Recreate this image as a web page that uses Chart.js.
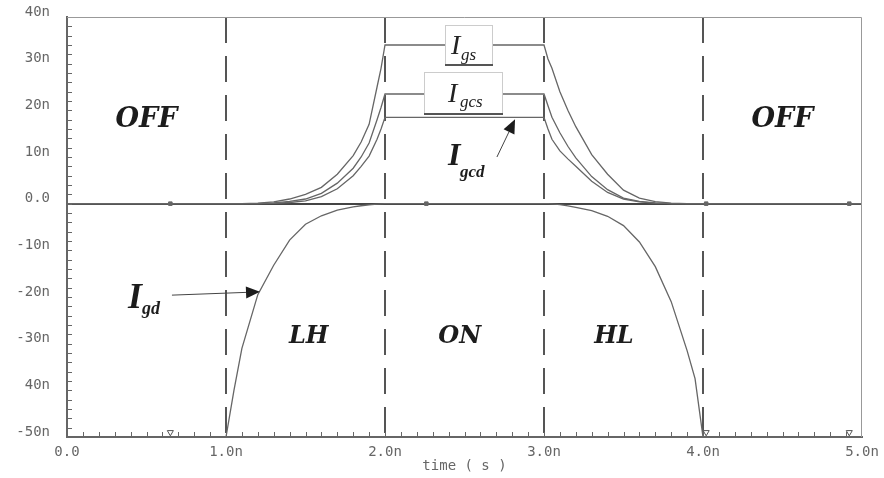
<!DOCTYPE html>
<html>
<head>
<meta charset="utf-8">
<script src="https://cdn.jsdelivr.net/npm/chart.js@4.4.1/dist/chart.umd.min.js"></script>
<style>
  html, body { margin: 0; padding: 0; background: #fff; }
  #wrap { width: 884px; height: 478px; }
</style>
</head>
<body>
<div id="wrap"><canvas id="chart"></canvas></div>
<script>
// gate currents vs time (time in ns, currents in nA)
const timeNs = [0, 0.5, 1.0, 1.05, 1.1, 1.2, 1.3, 1.4, 1.5, 1.6, 1.7, 1.8, 1.85, 1.9, 1.95, 1.975, 2.0, 2.5,
                3.0, 3.025, 3.05, 3.1, 3.15, 3.2, 3.3, 3.4, 3.5, 3.6, 3.7, 3.8, 3.9, 3.95, 4.0, 4.5, 5.0];
const igs  = [0, 0, 0, 0, 0, 0.1, 0.4, 1.0, 2.0, 3.5, 6.3, 10.3, 13.2, 17, 25, 29, 34, 34,
              34, 31, 29, 24, 20, 16.5, 10.5, 6.3, 2.9, 1.2, 0.45, 0.12, 0, 0, 0, 0, 0];
const igcs = [0, 0, 0, 0, 0, 0, 0.15, 0.5, 1.0, 2.2, 4.4, 7.6, 10, 13, 18, 20.6, 23.5, 23.5,
              23.5, 21, 18.5, 15.2, 12.3, 9.8, 5.8, 3.0, 1.2, 0.5, 0.15, 0, 0, 0, 0, 0, 0];
const igcd = [0, 0, 0, 0, 0, 0, 0.05, 0.25, 0.6, 1.5, 3.2, 6.0, 8.0, 10.2, 13.8, 16, 18.5, 18.5,
              18.5, 16, 13.8, 11.3, 9.6, 8.0, 4.8, 2.4, 1.0, 0.4, 0.1, 0, 0, 0, 0, 0, 0];
const igd  = [-50, -50, -50, -40, -31, -19.5, -13.2, -7.8, -4.4, -2.6, -1.4, -0.7, -0.45, -0.25, -0.1, -0.05, 0, 0,
              0, 0, -0.05, -0.2, -0.45, -0.8, -1.5, -2.7, -4.7, -8.2, -13.5, -21, -31.5, -37.5, -50, -50, -50];

const phaseBounds = [1, 2, 3, 4];
const regionNames = ['OFF', 'LH', 'ON', 'HL', 'OFF'];
const zeroMarkerT = [0.65, 2.26, 4.02, 4.92];
const bottomMarkerT = [0.65, 4.02, 4.92];

const xTickLabels = ['0.0', '1.0n', '2.0n', '3.0n', '4.0n', '5.0n'];
const yTickLabels = ['-50n', '40n', '-30n', '-20n', '-10n', '0.0', '10n', '20n', '30n', '40n'];
const xMin = 0, xMax = 5, yMin = -50, yMax = 40;

const pts = (ys) => timeNs.map((t, i) => ({ x: t, y: ys[i] }));
const curve = (label, ys) => ({
    label, data: pts(ys), showLine: true, borderColor: '#666', borderWidth: 1.3,
    pointRadius: 0, tension: 0, fill: false, order: 1
});

const datasets = [
    curve('Igs', igs), curve('Igcs', igcs), curve('Igcd', igcd), curve('Igd', igd),
    {
        label: 'zero markers', data: zeroMarkerT.map(t => ({ x: t, y: 0 })),
        showLine: false, pointStyle: 'rect', pointRadius: 2.5,
        backgroundColor: '#666', borderColor: '#666', order: 0
    },
    {
        label: 'bottom markers', data: bottomMarkerT.map(t => ({ x: t, y: yMin + 1 })),
        showLine: false, pointStyle: 'triangle', rotation: 180, pointRadius: 3.5,
        backgroundColor: '#fff', borderColor: '#555', borderWidth: 1, order: 0
    }
];
phaseBounds.forEach(b => datasets.push({
    label: 'bound ' + b, data: [{ x: b, y: yMax }, { x: b, y: yMin }],
    showLine: true, borderColor: '#555', borderWidth: 2, borderDash: [26, 13],
    pointRadius: 0, order: 10
}));

// text annotations, anchored in data coordinates
const regionPos = [[0.5, 18, 27], [1.52, -28.5, 24], [2.47, -28.5, 24], [3.44, -28.5, 24], [4.5, 18, 27]];
const boxLabels = [
    { t: 2.528, v: 34, w: 48, h: 40, main: 'I', sub: 'gs', mx: -18, my: 9, sx: -8, sy: 15 },
    { t: 2.494, v: 23.7, w: 79, h: 42, main: 'I', sub: 'gcs', mx: -15.5, my: 9, sx: -3.5, sy: 14 }
];
const arrowLabels = [
    { t: 2.396, v: 8.3, size: 32, sub: 'gcd', subSize: 17, sx: 12, sy: 12,
      from: [2.704, 10.0], to: [2.818, 18.1] },
    { t: 0.384, v: -22.35, size: 36, sub: 'gd', subSize: 18, sx: 14, sy: 6,
      from: [0.66, -19.6], to: [1.214, -18.9] }
];

const decor = {
    id: 'decor',
    afterDatasetsDraw(chart) {
        const { ctx, chartArea: a, scales: { x, y } } = chart;
        ctx.save();
        // thin top / right frame
        ctx.strokeStyle = '#999';
        ctx.lineWidth = 1;
        ctx.beginPath();
        ctx.moveTo(a.left, a.top + 0.5);
        ctx.lineTo(a.right - 0.5, a.top + 0.5);
        ctx.lineTo(a.right - 0.5, a.bottom);
        ctx.stroke();

        // inward minor ticks
        ctx.strokeStyle = '#666';
        ctx.beginPath();
        for (let i = 1; i < 50; i++) {
            const px = Math.round(x.getPixelForValue(i / 10)) + 0.5;
            ctx.moveTo(px, a.bottom - 1);
            ctx.lineTo(px, a.bottom - 5);
        }
        for (let v = yMin + 2; v < yMax; v += 2) {
            const py = Math.round(y.getPixelForValue(v)) + 0.5;
            ctx.moveTo(a.left + 1, py);
            ctx.lineTo(a.left + 5, py);
        }
        ctx.stroke();

        // region names
        ctx.fillStyle = '#1c1c1c';
        ctx.textAlign = 'center';
        ctx.textBaseline = 'middle';
        regionNames.forEach((name, i) => {
            const [t, v, size] = regionPos[i];
            ctx.font = `italic bold ${size}px "DejaVu Serif", serif`;
            ctx.fillText(name, x.getPixelForValue(t), y.getPixelForValue(v));
        });

        // boxed legends
        ctx.textAlign = 'left';
        ctx.textBaseline = 'alphabetic';
        boxLabels.forEach(b => {
            const cx = x.getPixelForValue(b.t), cy = y.getPixelForValue(b.v);
            const l = Math.round(cx - b.w / 2), tp = Math.round(cy - b.h / 2);
            ctx.fillStyle = '#fff';
            ctx.fillRect(l, tp, b.w, b.h);
            ctx.strokeStyle = '#ccc';
            ctx.lineWidth = 1;
            ctx.strokeRect(l + 0.5, tp + 0.5, b.w - 1, b.h - 1);
            ctx.strokeStyle = '#555';
            ctx.lineWidth = 2;
            ctx.beginPath();
            ctx.moveTo(l, tp + b.h);
            ctx.lineTo(l + b.w, tp + b.h);
            ctx.stroke();
            ctx.fillStyle = '#222';
            ctx.font = 'italic 28px "Liberation Serif", serif';
            ctx.fillText(b.main, cx + b.mx, cy + b.my);
            ctx.font = 'italic 17px "Liberation Serif", serif';
            ctx.fillText(b.sub, cx + b.sx, cy + b.sy);
        });

        // arrow labels
        arrowLabels.forEach(lb => {
            const px = x.getPixelForValue(lb.t), py = y.getPixelForValue(lb.v);
            ctx.fillStyle = '#1c1c1c';
            ctx.font = `italic bold ${lb.size}px "Liberation Serif", serif`;
            ctx.fillText('I', px, py);
            ctx.font = `italic bold ${lb.subSize}px "Liberation Serif", serif`;
            ctx.fillText(lb.sub, px + lb.sx, py + lb.sy);

            const x1 = x.getPixelForValue(lb.from[0]), y1 = y.getPixelForValue(lb.from[1]);
            const x2 = x.getPixelForValue(lb.to[0]), y2 = y.getPixelForValue(lb.to[1]);
            const ang = Math.atan2(y2 - y1, x2 - x1);
            const len = 14, half = 6;
            const bx = x2 - len * Math.cos(ang), by = y2 - len * Math.sin(ang);
            ctx.strokeStyle = '#444';
            ctx.lineWidth = 1;
            ctx.beginPath();
            ctx.moveTo(x1, y1);
            ctx.lineTo(bx, by);
            ctx.stroke();
            ctx.beginPath();
            ctx.moveTo(x2, y2);
            ctx.lineTo(bx + half * Math.sin(ang), by - half * Math.cos(ang));
            ctx.lineTo(bx - half * Math.sin(ang), by + half * Math.cos(ang));
            ctx.closePath();
            ctx.fill();
        });
        ctx.restore();
    }
};

const tickFont = { family: '"DejaVu Sans Mono", monospace', size: 14 };

new Chart(document.getElementById('chart'), {
    type: 'scatter',
    data: { datasets },
    options: {
        responsive: true,
        maintainAspectRatio: false,
        animation: false,
        devicePixelRatio: 1,
        layout: { padding: { top: 17, right: 22, left: 0, bottom: 0 } },
        plugins: { legend: { display: false }, tooltip: { enabled: false } },
        scales: {
            x: {
                type: 'linear', min: xMin, max: xMax,
                grid: { display: false, drawTicks: false },
                border: { color: '#666', width: 2 },
                ticks: {
                    stepSize: 1, color: '#666', font: tickFont, padding: 7, maxRotation: 0,
                    callback: (v, i) => xTickLabels[i]
                },
                title: {
                    display: true, text: 'time ( s )', color: '#666', font: tickFont,
                    padding: { top: 0, bottom: 3 }
                },
                afterFit: (s) => { s.height = 41; s.paddingLeft = 0; s.paddingRight = 0; }
            },
            y: {
                type: 'linear', min: yMin, max: yMax,
                grid: {
                    drawTicks: false,
                    color: (c) => c.tick && c.tick.value === 0 ? '#444' : 'rgba(0,0,0,0)',
                    lineWidth: (c) => c.tick && c.tick.value === 0 ? 2 : 0
                },
                border: { color: '#666', width: 2 },
                ticks: {
                    stepSize: 10, color: '#666', font: tickFont, padding: 17, labelOffset: -5,
                    callback: (v, i) => yTickLabels[i]
                },
                afterFit: (s) => { s.width = 67; s.paddingTop = 0; s.paddingBottom = 0; }
            }
        }
    },
    plugins: [decor]
});
</script>
</body>
</html>
